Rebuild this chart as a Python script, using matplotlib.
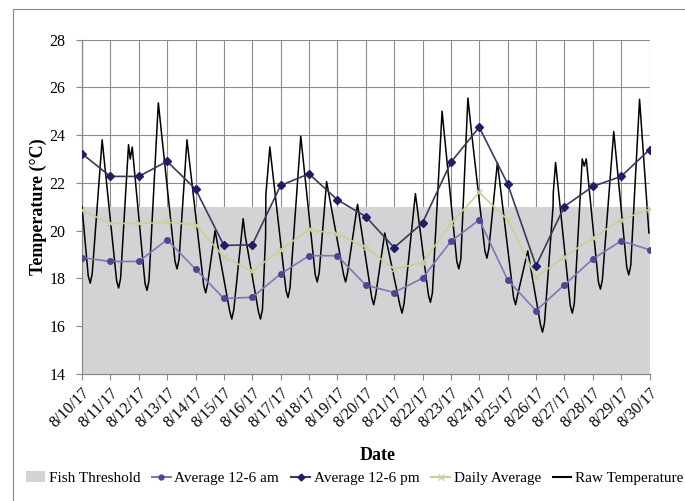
import matplotlib
matplotlib.use("Agg")
import matplotlib.pyplot as plt
from matplotlib.patches import Patch, Rectangle
from matplotlib.lines import Line2D

plt.rcParams["font.family"] = ["Liberation Serif", "DejaVu Serif"]

# dates (one per day) and tick labels
days = list(range(21))
date_labels = ["8/%d/17" % d for d in range(10, 31)]

threshold = 21.0

avg_am = [18.87, 18.71, 18.71, 19.62, 18.39, 17.16, 17.21, 18.19, 18.95, 18.95, 17.72,
          17.41, 18.01, 19.55, 20.45, 17.94, 16.65, 17.73, 18.81, 19.57, 19.20]
avg_pm = [23.22, 22.27, 22.27, 22.90, 21.74, 19.38, 19.41, 21.89, 22.38, 21.29, 20.59,
          19.29, 20.32, 22.86, 24.33, 21.96, 18.53, 21.01, 21.85, 22.27, 23.39]
daily_avg = [20.85, 20.30, 20.30, 20.35, 20.25, 18.90, 18.30, 19.20, 20.05, 19.85, 19.30,
             18.40, 18.65, 20.30, 21.60, 20.45, 18.05, 18.90, 19.70, 20.45, 20.90]

# raw logger readings (day offset from 8/10, temperature)
raw_day = [0.00, 0.22, 0.29, 0.36, 0.71, 1.22, 1.29, 1.36, 1.64, 1.70, 1.77, 2.22, 2.29,
           2.36, 2.69, 3.28, 3.35, 3.42, 3.70, 4.29, 4.36, 4.43, 4.69, 5.21, 5.28, 5.35,
           5.68, 5.75, 6.22, 6.29, 6.36, 6.47, 6.48, 6.62, 7.19, 7.26, 7.33, 7.71, 8.22,
           8.29, 8.36, 8.62, 9.22, 9.29, 9.36, 9.71, 10.21, 10.28, 10.35, 10.67, 11.21,
           11.28, 11.35, 11.75, 12.21, 12.28, 12.35, 12.69, 13.21, 13.28, 13.35, 13.60,
           13.72, 14.20, 14.27, 14.34, 14.64, 15.21, 15.28, 15.35, 15.71, 16.16, 16.23,
           16.30, 16.60, 16.61, 16.69, 17.21, 17.28, 17.35, 17.63, 17.70, 17.77, 18.20,
           18.27, 18.34, 18.74, 19.20, 19.27, 19.34, 19.65, 19.98]
raw_temp = [21.0, 18.1, 17.8, 18.2, 23.8, 17.9, 17.6, 18.0, 23.6, 23.0, 23.5, 17.8, 17.5,
            17.9, 25.35, 18.7, 18.4, 18.8, 23.8, 17.7, 17.4, 17.8, 20.0, 16.6, 16.3, 16.7,
            20.5, 19.8, 16.6, 16.3, 16.7, 19.75, 21.5, 23.5, 17.5, 17.2, 17.6, 23.95, 18.15,
            17.85, 18.25, 22.05, 18.15, 17.85, 18.25, 21.1, 17.2, 16.9, 17.3, 19.9, 16.85,
            16.55, 16.95, 21.55, 17.3, 17.0, 17.4, 25.0, 18.7, 18.4, 18.8, 25.55,
            24.2, 19.15, 18.85, 19.25, 22.85, 17.2, 16.9, 17.3, 19.15, 16.05, 15.75,
            16.15, 21.0, 21.6, 22.85, 16.85, 16.55, 16.95, 23.0, 22.7, 23.0, 17.85,
            17.55, 17.95, 24.15, 18.45, 18.15, 18.55, 25.5, 19.9]

fig = plt.figure(figsize=(6.85, 5.01), dpi=100)
fig.add_artist(Rectangle((13 / 685, -0.05), 1.0, 1 - 9.5 / 501 + 0.05, transform=fig.transFigure,
                         fill=False, edgecolor="#888888", linewidth=0.8))
ax = fig.add_axes([82 / 685, 1 - 374 / 501, (649.5 - 82) / 685, (374 - 39.5) / 501])

ax.fill_between([days[0], days[-1]], 14, threshold, color="#D3D3D6", linewidth=0, zorder=1)
ax.plot(raw_day, raw_temp, color="black", linewidth=1.1, zorder=3)
ax.plot(days, daily_avg, color="#C9CF95", linewidth=1.2, marker="x", markersize=4,
        markeredgecolor="#C9CF95", zorder=4)
ax.plot(days, avg_am, color="#7E77B3", linewidth=1.2, marker="o", markersize=4,
        markerfacecolor="#4F4693", markeredgecolor="#4F4693", zorder=5)
ax.plot(days, avg_pm, color="#3A3A5C", linewidth=1.2, marker="D", markersize=4,
        markerfacecolor="#1E1E66", markeredgecolor="#1E1E66", zorder=6)

ax.set_xlim(days[0], days[-1])
ax.set_ylim(14, 28)
ax.set_yticks(range(14, 29, 2))
ax.set_xticks(days)
ax.set_xticklabels(date_labels, rotation=45, ha="right", rotation_mode="anchor", fontsize=11.5)
ax.tick_params(axis="y", labelsize=11.5, length=4, pad=8, color="#888888")
ax.tick_params(axis="x", length=4, pad=4, color="#888888")
ax.grid(True, color="#8C8C8C", linewidth=0.8, zorder=0)
ax.set_axisbelow(True)
for side in ["top", "right"]:
    ax.spines[side].set_visible(False)
for side in ["left", "bottom"]:
    ax.spines[side].set_color("#888888")
    ax.spines[side].set_linewidth(0.9)

ax.set_ylabel("Temperature (°C)", fontsize=13, fontweight="bold", labelpad=2)
fig.text(378 / 685, 1 - 455 / 501, "Date", fontsize=13, fontweight="bold", ha="center", va="center")

handles = [
    Patch(facecolor="#D3D3D6", edgecolor="none"),
    Line2D([], [], color="#7E77B3", marker="o", markersize=3.5, markerfacecolor="#4F4693",
           markeredgecolor="#4F4693"),
    Line2D([], [], color="#3A3A5C", marker="D", markersize=3.5, markerfacecolor="#1E1E66",
           markeredgecolor="#1E1E66"),
    Line2D([], [], color="#C9CF95", marker="x", markersize=4, markeredgecolor="#C9CF95"),
    Line2D([], [], color="black"),
]
labels = ["Fish Threshold", "Average 12-6 am", "Average 12-6 pm", "Daily Average", "Raw Temperature"]
fig.legend(handles, labels, loc="center", bbox_to_anchor=(355 / 685, 1 - 478 / 501), ncol=5,
           frameon=False, fontsize=11, handlelength=1.2, handletextpad=0.25, columnspacing=0.8)

fig.savefig("out.png", dpi=100)
